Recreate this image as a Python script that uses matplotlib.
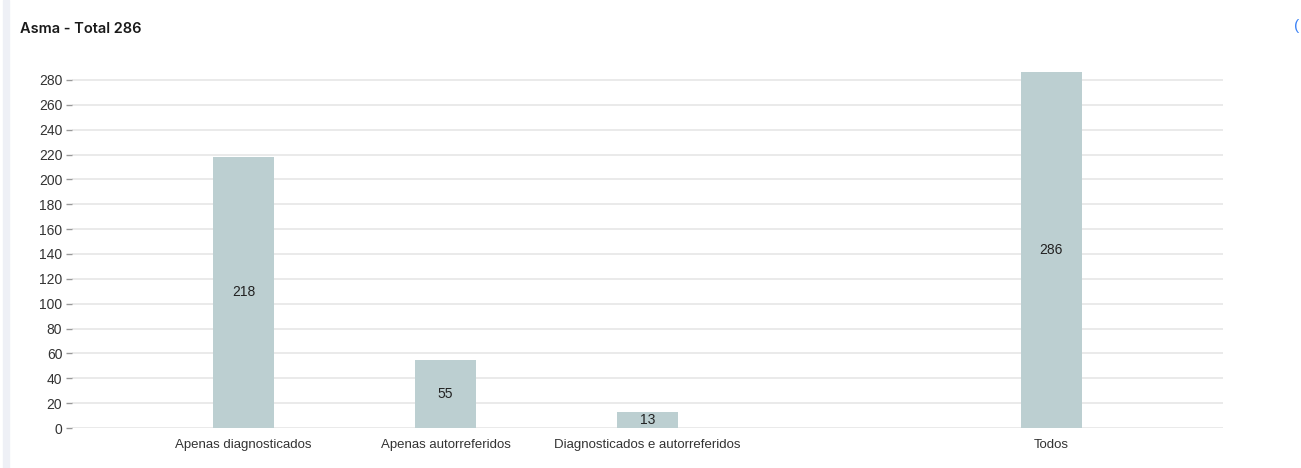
import matplotlib
matplotlib.use('Agg')
import matplotlib.pyplot as plt
import numpy as np

# data
CATEGORIES = ["Apenas diagnosticados", "Apenas autorreferidos",
              "Diagnosticados e autorreferidos", "", "Todos"]
VALUES = [218, 55, 13, None, 286]
TITLE = "Asma - Total 286"
YTICKS = list(range(0, 281, 20))

BAR_COLOR = "#bccfd1"
GRID_COLOR = "#e8e8e8"
TEXT_COLOR = "#333333"

plt.rcParams['font.family'] = ['Liberation Sans Narrow', 'Liberation Sans', 'DejaVu Sans']

fig = plt.figure(figsize=(13.01, 4.68), dpi=100)
ax = fig.add_axes([72/1301, 1 - 428/468, (1223 - 72)/1301, (428 - 65)/468])

x = np.arange(len(CATEGORIES))
for xi, v in zip(x, VALUES):
    if v is None:
        continue
    ax.bar(xi, v, width=0.3, color=BAR_COLOR, zorder=3)
    ax.text(xi, v / 2, str(v), ha='center', va='center', fontsize=10,
            color='#222222', zorder=4)

ax.set_xlim(-0.85, 4.85)
ax.set_ylim(0, 292)
ax.set_yticks(YTICKS)
ax.set_xticks(x)
ax.set_xticklabels(CATEGORIES, fontsize=9.5, color=TEXT_COLOR)
ax.tick_params(axis='x', length=0, pad=8)
ax.tick_params(axis='y', length=4, width=1, color='#999999', labelsize=10,
               labelcolor=TEXT_COLOR, pad=3)
ax.grid(axis='y', color=GRID_COLOR, linewidth=1.3, zorder=0)
for s in ax.spines.values():
    s.set_visible(False)

# panel title and side strip
fig.text(20/1301, 1 - 29/468, TITLE, fontsize=10.5, fontweight='semibold',
         family=['Inter', 'DejaVu Sans'], color='#1a1a1a', va='center')
fig.patches.append(plt.Rectangle((3/1301, 0), 6/1301, 1, transform=fig.transFigure,
                                 color='#eef0f6', zorder=0))
fig.text(1294/1301, 1 - 26/468, "(", fontsize=11, color='#3b82f6', va='center')

fig.savefig("out.png", dpi=100)
